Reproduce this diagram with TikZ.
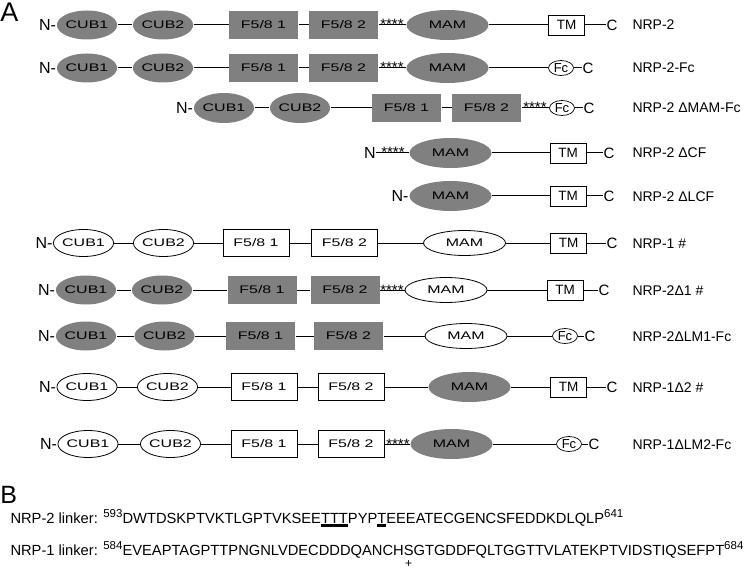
\documentclass[tikz,border=0pt]{standalone}
\usepackage{fontspec}
\setmainfont{Liberation Sans}
\newfontfamily\domfont[FakeStretch=1.45]{Liberation Sans}
\usepackage{tikz}
\usetikzlibrary{shapes.geometric}
\definecolor{dgray}{RGB}{128,128,128}
\newcommand{\domf}{\domfont\fontsize{11}{13}\selectfont}
\newcommand{\numup}[1]{\raisebox{5.5pt}{\fontsize{11.5}{12}\selectfont #1}}
\newcommand{\thickul}[1]{\vtop{\hbox{#1}\kern1.3pt\hrule height 2.2pt}}
\newcommand{\plusbelow}[1]{#1\llap{\raisebox{-12.5pt}[0pt][0pt]{\makebox[0.667em]{\fontsize{12}{12}\selectfont +}}}}

\begin{document}
\begin{tikzpicture}[x=1pt,y=-1pt,line width=1pt,
    gcub/.style={ellipse,fill=dgray,minimum width=58pt,minimum height=29pt,inner sep=0pt,font=\domf},
    wcub/.style={ellipse,draw,line width=0.8pt,minimum width=58pt,minimum height=27pt,inner sep=0pt,font=\domf},
    gbox/.style={rectangle,fill=dgray,minimum width=69pt,minimum height=28pt,inner sep=0pt,font=\domf},
    wbox/.style={rectangle,draw,line width=0.8pt,minimum width=66pt,minimum height=27pt,inner sep=0pt,font=\domf},
    gmam/.style={ellipse,fill=dgray,minimum width=82pt,minimum height=30pt,inner sep=0pt,font=\domf},
    wmam/.style={ellipse,draw,line width=0.8pt,minimum width=82pt,minimum height=25pt,inner sep=0pt,font=\domf},
    tm/.style={rectangle,draw,line width=0.8pt,minimum width=36pt,minimum height=20pt,inner sep=0pt,font=\fontsize{13.5}{14}\selectfont},
    fc/.style={ellipse,draw,line width=0.7pt,minimum width=25pt,minimum height=15pt,inner sep=0pt,font=\fontsize{13}{13}\selectfont},
    nt/.style={anchor=east,inner sep=0pt,font=\fontsize{16}{16}\selectfont},
    ct/.style={inner sep=0.5pt,font=\fontsize{15}{15}\selectfont},
    st/.style={anchor=base,inner sep=0pt,font=\fontsize{15}{15}\selectfont},
    lab/.style={anchor=base west,inner sep=0pt,font=\fontsize{14}{14}\selectfont}]
\useasboundingbox (0,0) rectangle (745,575);

\node[anchor=base west,inner sep=0pt,font=\fontsize{27}{27}\selectfont] (pa) at (0,22) {A};

% NRP-2
\node[gcub] (a1) at (87,25) {CUB1};
\node[gcub] (a2) at (163,25) {CUB2};
\node[gbox] (a3) at (263.5,25) {F5/8 1};
\node[gbox] (a4) at (343.5,25) {F5/8 2};
\node[gmam] (a5) at (447.5,25) {MAM};
\node[tm] (a6) at (566.5,25) {TM};
\node[ct] (a7) at (612,25) {C};
\node[nt] (a0) at (a1.west) {N-};
\node[st] (as) at (392,30) {****};
\node[lab] (la) at (632,30) {NRP-2};
\draw (a1) -- (a2) -- (a3) -- (a4) -- (a5) -- (a6) -- (a7);

% NRP-2-Fc
\node[gcub] (b1) at (87,68) {CUB1};
\node[gcub] (b2) at (163,68) {CUB2};
\node[gbox] (b3) at (263.5,68) {F5/8 1};
\node[gbox] (b4) at (343.5,68) {F5/8 2};
\node[gmam] (b5) at (447.5,68) {MAM};
\node[fc] (b6) at (561,68) {Fc};
\node[ct] (b7) at (588,68) {C};
\node[nt] (b0) at (b1.west) {N-};
\node[st] (bs) at (392,73) {****};
\node[lab] (lb) at (632,73) {NRP-2-Fc};
\draw (b1) -- (b2) -- (b3) -- (b4) -- (b5) -- (b6) -- (b7);

% NRP-2 dMAM-Fc
\node[gcub,minimum width=50pt,minimum height=30pt] (c1) at (224,108) {CUB1};
\node[gcub,minimum width=50pt,minimum height=30pt] (c2) at (300,108) {CUB2};
\node[gbox] (c3) at (406.5,108) {F5/8 1};
\node[gbox] (c4) at (486.5,108) {F5/8 2};
\node[fc] (c6) at (562,108) {Fc};
\node[ct] (c7) at (589,108) {C};
\node[nt] (c0) at (c1.west) {N-};
\node[st] (cs) at (535,113) {****};
\node[lab] (lc) at (632,113) {NRP-2 ΔMAM-Fc};
\draw (c1) -- (c2) -- (c3) -- (c4) -- (c6) -- (c7);

% NRP-2 dCF
\node[ct,inner sep=0pt,font=\fontsize{16}{16}\selectfont] (d0) at (370,153) {N};
\node[gmam] (d5) at (450.5,153) {MAM};
\node[tm] (d6) at (568,153) {TM};
\node[ct] (d7) at (609,153) {C};
\node[st] (ds) at (393,158) {****};
\node[lab] (ld) at (632,158) {NRP-2 ΔCF};
\draw (d0) -- (d5) -- (d6) -- (d7);

% NRP-2 dLCF
\node[gmam] (e5) at (450.5,196) {MAM};
\node[tm] (e6) at (568,196) {TM};
\node[ct] (e7) at (609,196) {C};
\node[nt] (e0) at (e5.west) {N-};
\node[lab] (le) at (632,201) {NRP-2 ΔLCF};
\draw (e5) -- (e6) -- (e7);

% NRP-1 #
\node[wcub] (f1) at (83.5,243) {CUB1};
\node[wcub] (f2) at (163.5,243) {CUB2};
\node[wbox] (f3) at (256,243) {F5/8 1};
\node[wbox] (f4) at (344.5,243) {F5/8 2};
\node[wmam] (f5) at (464.5,243) {MAM};
\node[tm] (f6) at (568.5,243) {TM};
\node[ct] (f7) at (612,243) {C};
\node[nt] (f0) at (f1.west) {N-};
\node[lab] (lf) at (632,248) {NRP-1 \#};
\draw (f1) -- (f2) -- (f3) -- (f4) -- (f5) -- (f6) -- (f7);

% NRP-2d1 #
\node[gcub] (g1) at (86,290) {CUB1};
\node[gcub] (g2) at (162,290) {CUB2};
\node[gbox] (g3) at (262,290) {F5/8 1};
\node[gbox] (g4) at (345,290) {F5/8 2};
\node[wmam] (g5) at (446,290) {MAM};
\node[tm] (g6) at (565,290) {TM};
\node[ct] (g7) at (604,290) {C};
\node[nt] (g0) at (g1.west) {N-};
\node[st] (gs) at (392,295) {****};
\node[lab] (lg) at (632,295) {NRP-2Δ1 \#};
\draw (g1) -- (g2) -- (g3) -- (g4) -- (g5) -- (g6) -- (g7);

% NRP-2dLM1-Fc
\node[gcub] (h1) at (86,336) {CUB1};
\node[gcub] (h2) at (164.5,336) {CUB2};
\node[gbox] (h3) at (260.5,336) {F5/8 1};
\node[gbox] (h4) at (348.5,336) {F5/8 2};
\node[wmam] (h5) at (466,336) {MAM};
\node[fc] (h6) at (565,336) {Fc};
\node[ct] (h7) at (590,336) {C};
\node[nt] (h0) at (h1.west) {N-};
\node[lab] (lh) at (632,341) {NRP-2ΔLM1-Fc};
\draw (h1) -- (h2) -- (h3) -- (h4) -- (h5) -- (h6) -- (h7);

% NRP-1d2 #
\node[wcub] (i1) at (87,387) {CUB1};
\node[wcub] (i2) at (167.5,387) {CUB2};
\node[wbox] (i3) at (264,387) {F5/8 1};
\node[wbox] (i4) at (351,387) {F5/8 2};
\node[gmam] (i5) at (469.5,387) {MAM};
\node[tm] (i6) at (568.5,387) {TM};
\node[ct] (i7) at (612,387) {C};
\node[nt] (i0) at (i1.west) {N-};
\node[lab] (li) at (632,392) {NRP-1Δ2 \#};
\draw (i1) -- (i2) -- (i3) -- (i4) -- (i5) -- (i6) -- (i7);

% NRP-1dLM2-Fc
\node[wcub] (j1) at (88,444) {CUB1};
\node[wcub] (j2) at (170.5,444) {CUB2};
\node[wbox] (j3) at (264,444) {F5/8 1};
\node[wbox] (j4) at (351,444) {F5/8 2};
\node[gmam] (j5) at (451.5,444) {MAM};
\node[fc] (j6) at (569,444) {Fc};
\node[ct] (j7) at (594,444) {C};
\node[nt] (j0) at (j1.west) {N-};
\node[st] (js) at (398,449) {****};
\node[lab] (lj) at (632,449) {NRP-1ΔLM2-Fc};
\draw (j1) -- (j2) -- (j3) -- (j4) -- (j5) -- (j6) -- (j7);

% linkers
\node[anchor=base west,inner sep=0pt,font=\fontsize{25}{25}\selectfont] (pb) at (0,503) {B};
\node[anchor=base west,inner sep=0pt,font=\fontsize{14.7}{15}\selectfont] (s2) at (10,523)
  {NRP-2 linker: \numup{593}DWTDSKPTVKTLGPTVKSEE\thickul{TTT}PYP\thickul{T}EEEATECGENCSFEDDKDLQLP\numup{641}};
\node[anchor=base west,inner sep=0pt,font=\fontsize{14.7}{15}\selectfont] (s1) at (10,555)
  {NRP-1 linker: \numup{584}EVEAPTAGPTTPNGNLVDECDDDQANCH\plusbelow{S}GTGDDFQLTGGTTVLATEKPTVIDSTIQSEFPT\numup{684}};
\end{tikzpicture}
\end{document}
